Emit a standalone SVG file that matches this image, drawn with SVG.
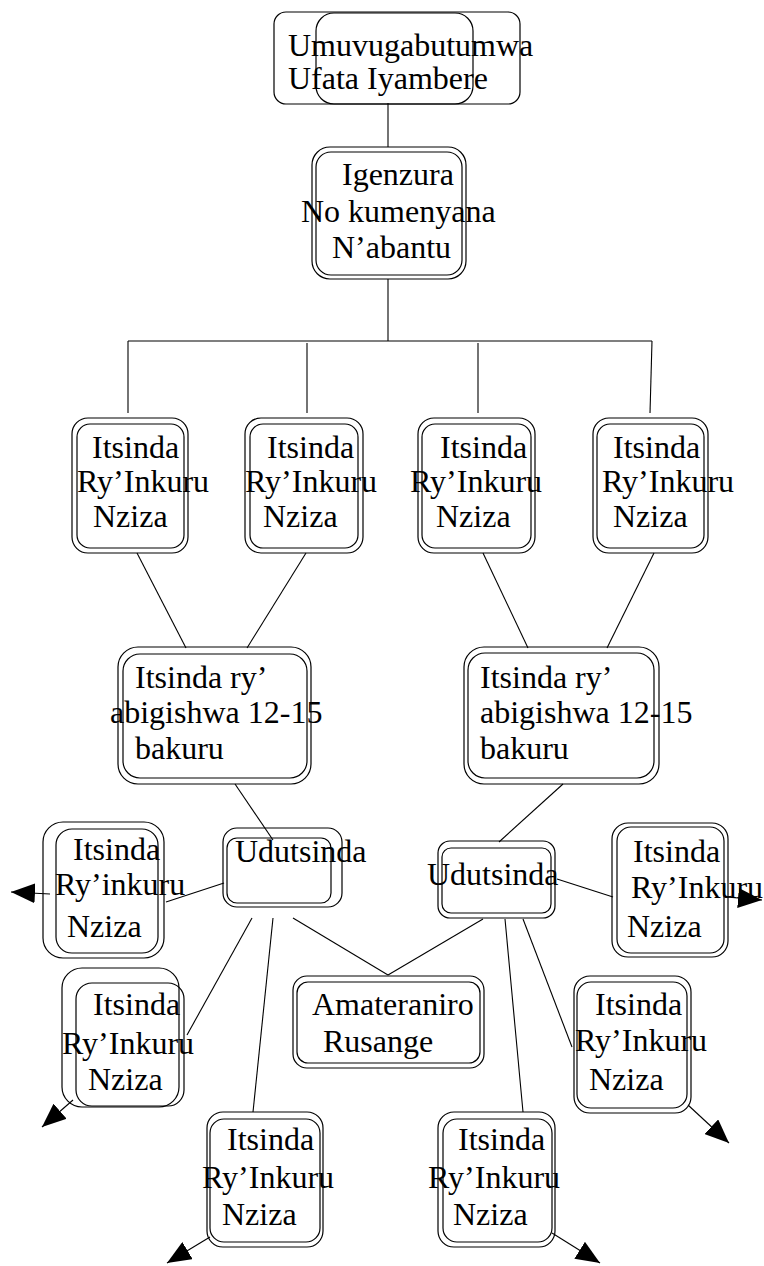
<svg xmlns="http://www.w3.org/2000/svg" width="764" height="1266" viewBox="0 0 764 1266">
  <defs>
    <style>
      .b { fill: none; stroke: #000; stroke-width: 1.2; }
      .c { fill: none; stroke: #000; stroke-width: 1.1; }
      .t { font-family: "Liberation Serif", "Times New Roman", serif; font-size: 32px; fill: #000; }
    </style>
    <marker id="arrow" markerUnits="userSpaceOnUse" markerWidth="24" markerHeight="20" refX="24" refY="10" orient="auto">
      <path d="M0,0 L24,10 L0,20 z" fill="#000"/>
    </marker>
  </defs>
  <rect width="764" height="1266" fill="#fff"/>

  <!-- connectors -->
  <g id="connectors">
    <line class="c" x1="388" y1="103" x2="388" y2="147"/>
    <line class="c" x1="388" y1="279" x2="388" y2="341"/>
    <line class="c" x1="128" y1="341" x2="652" y2="341"/>
    <line class="c" x1="128" y1="341" x2="128" y2="413"/>
    <line class="c" x1="307" y1="343" x2="307" y2="413"/>
    <line class="c" x1="478" y1="343" x2="478" y2="413"/>
    <line class="c" x1="652" y1="341" x2="650" y2="413"/>
    <line class="c" x1="137" y1="553" x2="186" y2="648"/>
    <line class="c" x1="306" y1="553" x2="247" y2="648"/>
    <line class="c" x1="483" y1="553" x2="528" y2="648"/>
    <line class="c" x1="654" y1="553" x2="607" y2="648"/>
    <line class="c" x1="235" y1="784" x2="273" y2="840"/>
    <line class="c" x1="563" y1="784" x2="499" y2="842"/>
    <line class="c" x1="224" y1="883" x2="166" y2="902"/>
    <line class="c" x1="252" y1="918" x2="187" y2="1035"/>
    <line class="c" x1="273" y1="918" x2="253" y2="1112"/>
    <line class="c" x1="293" y1="918" x2="388" y2="975"/>
    <line class="c" x1="388" y1="975" x2="483" y2="919"/>
    <line class="c" x1="557" y1="879" x2="613" y2="897"/>
    <line class="c" x1="505" y1="919" x2="523" y2="1112"/>
    <line class="c" x1="523" y1="919" x2="572" y2="1047"/>
    <line class="c" x1="50" y1="894" x2="11" y2="892" marker-end="url(#arrow)"/>
    <line class="c" x1="726" y1="897" x2="762" y2="900" marker-end="url(#arrow)"/>
    <line class="c" x1="73" y1="1100" x2="42" y2="1127" marker-end="url(#arrow)"/>
    <line class="c" x1="688" y1="1105" x2="729" y2="1143" marker-end="url(#arrow)"/>
    <line class="c" x1="210" y1="1237" x2="167" y2="1263" marker-end="url(#arrow)"/>
    <line class="c" x1="552" y1="1233" x2="600" y2="1263" marker-end="url(#arrow)"/>
  </g>

  <!-- top -->
  <g id="n-umuvugabutumwa">
    <rect class="b" x="274" y="12" width="246" height="92" rx="12"/>
    <rect class="b" x="316" y="13" width="157" height="91" rx="18"/>
    <text class="t" x="288" y="56">Umuvugabutumwa</text>
    <text class="t" x="288" y="89">Ufata Iyambere</text>
  </g>

  <g id="n-igenzura">
    <rect class="b" x="312" y="147" width="154" height="132" rx="18"/>
    <rect class="b" x="316" y="152" width="146" height="123" rx="15"/>
    <text class="t" x="342" y="185">Igenzura</text>
    <text class="t" x="301" y="222">No kumenyana</text>
    <text class="t" x="332" y="258">N’abantu</text>
  </g>

  <!-- Itsinda row -->
  <g id="n-itsinda-1">
    <rect class="b" x="72" y="418" width="116" height="135" rx="16"/>
    <rect class="b" x="77" y="424" width="107" height="124" rx="13"/>
    <text class="t" x="92" y="458">Itsinda</text>
    <text class="t" x="77" y="492">Ry’Inkuru</text>
    <text class="t" x="93" y="527">Nziza</text>
  </g>
  <g id="n-itsinda-2">
    <rect class="b" x="245" y="418" width="118" height="135" rx="16"/>
    <rect class="b" x="250" y="424" width="108" height="124" rx="13"/>
    <text class="t" x="267" y="458">Itsinda</text>
    <text class="t" x="245" y="492">Ry’Inkuru</text>
    <text class="t" x="263" y="527">Nziza</text>
  </g>
  <g id="n-itsinda-3">
    <rect class="b" x="418" y="418" width="117" height="135" rx="16"/>
    <rect class="b" x="422" y="424" width="109" height="124" rx="13"/>
    <text class="t" x="440" y="458">Itsinda</text>
    <text class="t" x="410" y="492">Ry’Inkuru</text>
    <text class="t" x="436" y="527">Nziza</text>
  </g>
  <g id="n-itsinda-4">
    <rect class="b" x="593" y="418" width="115" height="135" rx="16"/>
    <rect class="b" x="597" y="424" width="107" height="124" rx="13"/>
    <text class="t" x="613" y="458">Itsinda</text>
    <text class="t" x="602" y="492">Ry’Inkuru</text>
    <text class="t" x="613" y="527">Nziza</text>
  </g>

  <!-- abigishwa groups -->
  <g id="n-abigishwa-1">
    <rect class="b" x="118" y="647" width="193" height="137" rx="20"/>
    <rect class="b" x="123" y="654" width="184" height="124" rx="17"/>
    <text class="t" x="135" y="688">Itsinda ry’</text>
    <text class="t" x="110" y="723">abigishwa 12-15</text>
    <text class="t" x="135" y="759">bakuru</text>
  </g>
  <g id="n-abigishwa-2">
    <rect class="b" x="464" y="647" width="195" height="137" rx="20"/>
    <rect class="b" x="468" y="653" width="186" height="125" rx="17"/>
    <text class="t" x="480" y="688">Itsinda ry’</text>
    <text class="t" x="480" y="723">abigishwa 12-15</text>
    <text class="t" x="480" y="759">bakuru</text>
  </g>

  <!-- Udutsinda -->
  <g id="n-udutsinda-1">
    <rect class="b" x="223" y="828" width="119" height="79" rx="14"/>
    <rect class="b" x="227" y="838" width="104" height="65" rx="10"/>
    <text class="t" x="235" y="862">Udutsinda</text>
  </g>
  <g id="n-udutsinda-2">
    <rect class="b" x="438" y="841" width="117" height="77" rx="12"/>
    <rect class="b" x="442" y="848" width="109" height="65" rx="9"/>
    <text class="t" x="427" y="885">Udutsinda</text>
  </g>

  <!-- outer Itsinda nodes -->
  <g id="n-itsinda-5">
    <rect class="b" x="43" y="822" width="121" height="136" rx="20"/>
    <rect class="b" x="56" y="829" width="102" height="124" rx="16"/>
    <text class="t" x="73" y="860">Itsinda</text>
    <text class="t" x="55" y="895">Ry’inkuru</text>
    <text class="t" x="67" y="937">Nziza</text>
  </g>
  <g id="n-itsinda-6">
    <rect class="b" x="612" y="823" width="116" height="134" rx="16"/>
    <rect class="b" x="617" y="827" width="107" height="126" rx="14"/>
    <text class="t" x="633" y="862">Itsinda</text>
    <text class="t" x="631" y="898">Ry’Inkuru</text>
    <text class="t" x="627" y="937">Nziza</text>
  </g>
  <g id="n-itsinda-7">
    <rect class="b" x="62" y="968" width="117" height="139" rx="20"/>
    <rect class="b" x="76" y="983" width="108" height="123" rx="16"/>
    <text class="t" x="93" y="1015">Itsinda</text>
    <text class="t" x="62" y="1054">Ry’Inkuru</text>
    <text class="t" x="88" y="1090">Nziza</text>
  </g>
  <g id="n-amateraniro">
    <rect class="b" x="293" y="976" width="191" height="92" rx="14"/>
    <rect class="b" x="297" y="982" width="183" height="81" rx="11"/>
    <text class="t" x="312" y="1015">Amateraniro</text>
    <text class="t" x="323" y="1052">Rusange</text>
  </g>
  <g id="n-itsinda-8">
    <rect class="b" x="574" y="976" width="117" height="137" rx="16"/>
    <rect class="b" x="577" y="982" width="110" height="126" rx="14"/>
    <text class="t" x="595" y="1015">Itsinda</text>
    <text class="t" x="575" y="1051">Ry’Inkuru</text>
    <text class="t" x="589" y="1090">Nziza</text>
  </g>
  <g id="n-itsinda-9">
    <rect class="b" x="207" y="1112" width="116" height="135" rx="16"/>
    <rect class="b" x="210" y="1119" width="110" height="123" rx="14"/>
    <text class="t" x="227" y="1150">Itsinda</text>
    <text class="t" x="202" y="1188">Ry’Inkuru</text>
    <text class="t" x="222" y="1225">Nziza</text>
  </g>
  <g id="n-itsinda-10">
    <rect class="b" x="438" y="1112" width="117" height="135" rx="16"/>
    <rect class="b" x="443" y="1119" width="109" height="123" rx="14"/>
    <text class="t" x="458" y="1150">Itsinda</text>
    <text class="t" x="428" y="1188">Ry’Inkuru</text>
    <text class="t" x="453" y="1225">Nziza</text>
  </g>
</svg>
